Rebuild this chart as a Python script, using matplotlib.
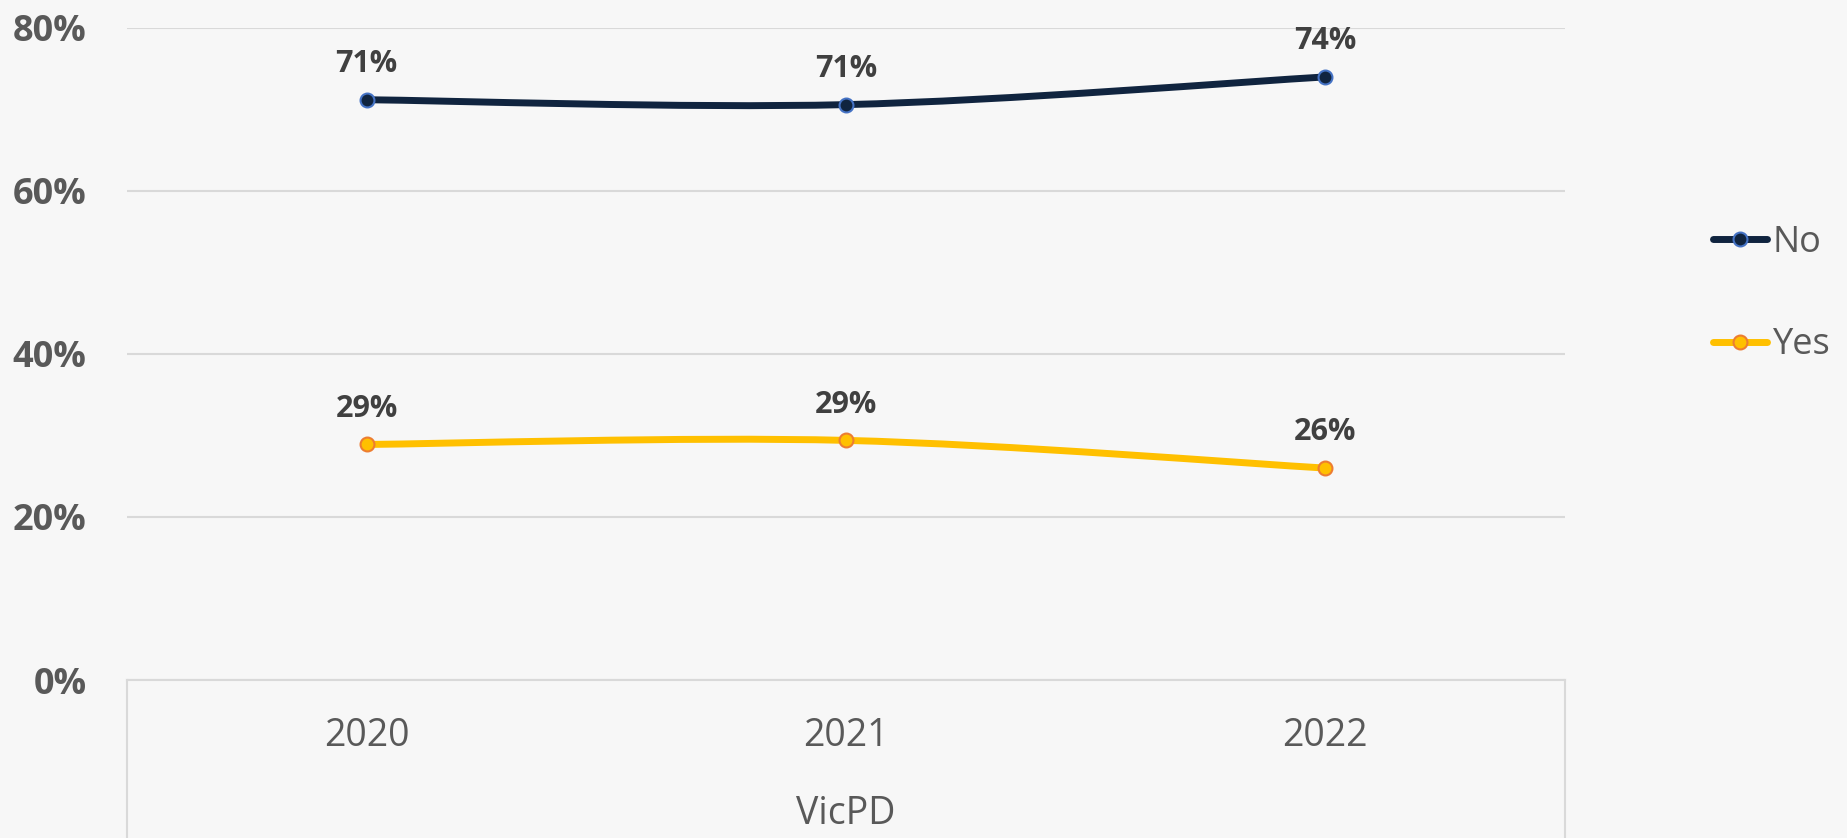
import numpy as np
import matplotlib.pyplot as plt
from matplotlib.path import Path
from matplotlib.patches import PathPatch
from matplotlib.lines import Line2D
from matplotlib.ticker import FuncFormatter

plt.rcParams['font.family'] = ['Open Sans', 'DejaVu Sans']

years = ['2020', '2021', '2022']
group = 'VicPD'
no_vals = [0.712, 0.706, 0.740]
yes_vals = [0.289, 0.294, 0.260]
series = ['No', 'Yes']

bg = '#f7f7f7'
grid_c = '#d9d9d9'
no_c, no_edge = '#10243f', '#4472c4'
yes_c, yes_edge = '#ffc000', '#ed7d31'


def smooth_path(xs, ys):
    # Excel-like smoothed line: cubic bezier, catmull-rom style control points
    pts = np.column_stack([xs, ys]).astype(float)
    n = len(pts)
    verts = [pts[0]]
    codes = [Path.MOVETO]
    for i in range(n - 1):
        p_prev = pts[max(i - 1, 0)]
        p0 = pts[i]
        p1 = pts[i + 1]
        p_next = pts[min(i + 2, n - 1)]
        c1 = p0 + (p1 - p_prev) / 6
        c2 = p1 - (p_next - p0) / 6
        verts += [c1, c2, p1]
        codes += [Path.CURVE4] * 3
    return Path(verts, codes)


fig = plt.figure(figsize=(18.47, 8.38), dpi=100, facecolor=bg)
ax = fig.add_axes([127 / 1847, 1 - 680 / 838, (1565 - 127) / 1847, (680 - 28) / 838])
ax.set_facecolor(bg)

x = np.arange(len(years))
for vals, c, ec in [(no_vals, no_c, no_edge), (yes_vals, yes_c, yes_edge)]:
    ax.add_patch(PathPatch(smooth_path(x, vals), fill=False, edgecolor=c, lw=5,
                           capstyle='round', zorder=3))
    ax.plot(x, vals, ls='none', marker='o', ms=10, mfc=c, mec=ec, mew=1.5, zorder=4)
    for xi, v in zip(x, vals):
        ax.annotate(f'{v * 100:.0f}%', (xi, v), xytext=(0, 15), textcoords='offset points',
                    ha='center', va='bottom', fontsize=22, fontweight='bold',
                    color='#404040', annotation_clip=False)

ax.set_xlim(-0.5, len(years) - 0.5)
ax.set_ylim(0, 0.8)
ax.set_yticks([0, 0.2, 0.4, 0.6, 0.8])
ax.yaxis.set_major_formatter(FuncFormatter(lambda v, p: f'{v * 100:.0f}%'))
ax.grid(axis='y', color=grid_c, lw=1.5)
ax.set_axisbelow(True)
ax.tick_params(axis='y', length=0, pad=29, labelsize=26, labelcolor='#595959')
for lab in ax.get_yticklabels():
    lab.set_fontweight('bold')
ax.set_xticks(x)
ax.set_xticklabels(years)
ax.tick_params(axis='x', length=0, pad=27, labelsize=27, labelcolor='#595959')

for s in ['top', 'right', 'left']:
    ax.spines[s].set_visible(False)
ax.spines['bottom'].set_color(grid_c)
ax.spines['bottom'].set_linewidth(1.5)

# category group box sides
for xs in [0, 1]:
    ax.plot([xs, xs], [0, -0.3], transform=ax.transAxes, color=grid_c, lw=1.5,
            clip_on=False)
ax.text(0.5, -0.205, group, transform=ax.transAxes, ha='center', va='center',
        fontsize=27, color='#595959')

handles = [
    Line2D([], [], color=no_c, lw=5, marker='o', ms=10, mfc=no_c, mec=no_edge,
           mew=1.5, solid_capstyle='round'),
    Line2D([], [], color=yes_c, lw=5, marker='o', ms=10, mfc=yes_c, mec=yes_edge,
           mew=1.5, solid_capstyle='round'),
]
leg = fig.legend(handles, series, loc='center left', bbox_to_anchor=(1713 / 1847, 1 - 294 / 838),
                 frameon=False, fontsize=26, labelspacing=1.85, handlelength=1.5,
                 handletextpad=0.15, borderpad=0, borderaxespad=0)
for t in leg.get_texts():
    t.set_color('#595959')

fig.savefig('out.png', dpi=100, facecolor=bg)
